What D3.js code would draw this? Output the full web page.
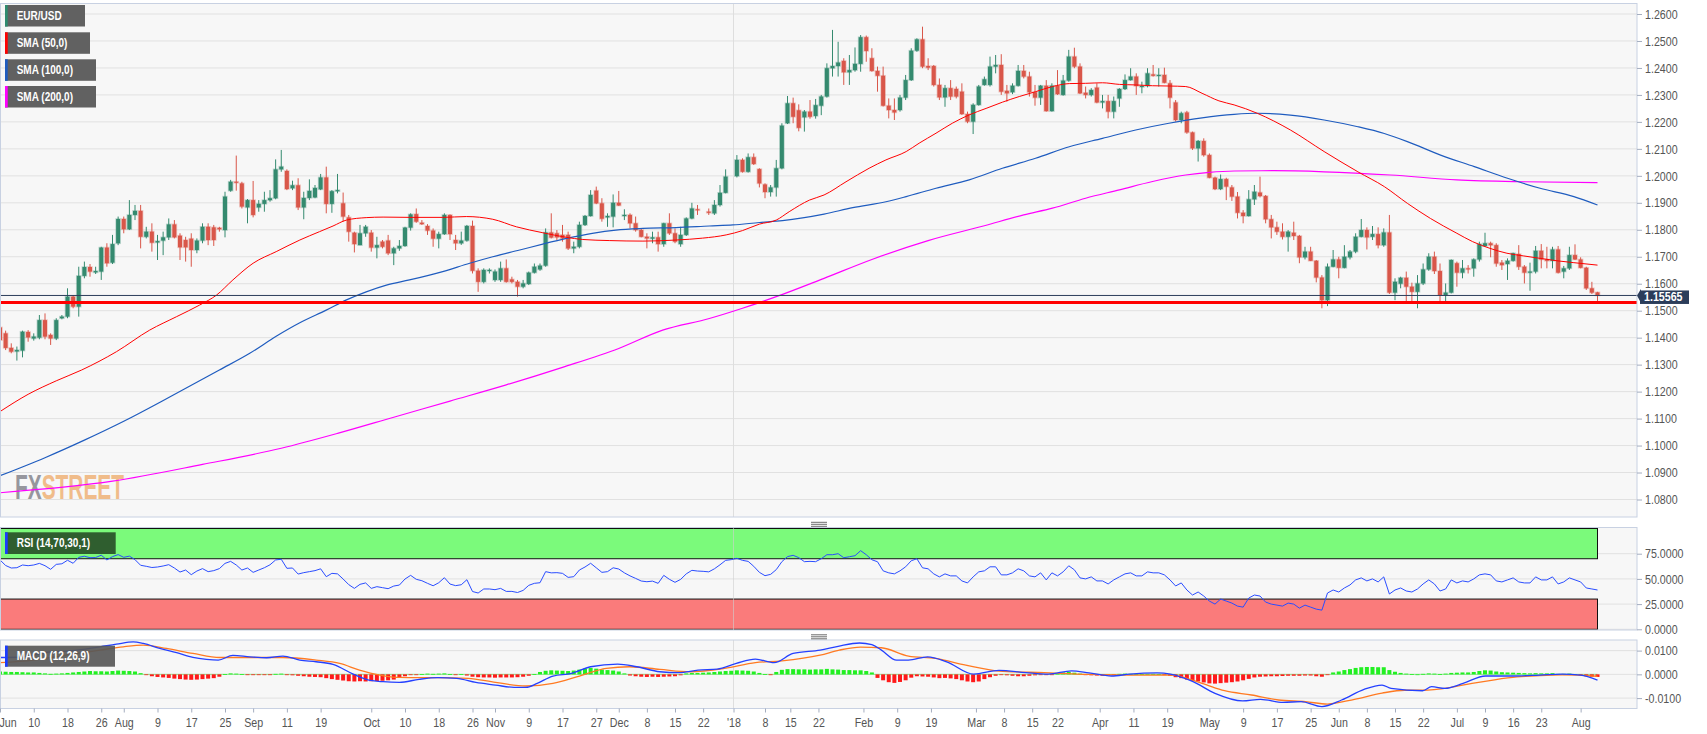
<!DOCTYPE html>
<html>
<head>
<meta charset="utf-8">
<script src="https://cdn.jsdelivr.net/npm/d3@7"></script>
<style>
  body { margin: 0; background: #fff; }
  svg { display: block; font-family: "Liberation Sans", Arial, sans-serif; }
</style>
</head>
<body>
<svg id="chart" width="1707" height="734"></svg>
<script>
// EUR/USD daily, one entry per candle slot (null = holiday gap)
const opens = [
1.1438,1.1416,1.1362,1.1349,1.1352,1.1421,1.1397,1.1400,1.1465,1.1410,
1.1397,1.1472,1.1478,1.1552,1.1515,1.1629,1.1662,1.1642,1.1645,1.1734,
1.1678,1.1750,1.1840,1.1802,1.1855,1.1870,1.1774,1.1793,1.1753,1.1760,
1.1772,1.1820,1.1778,1.1762,1.1767,1.1725,1.1760,1.1811,1.1809,1.1807,
1.1799,1.1945,1.1978,1.1972,1.1883,1.1910,1.1883,1.1896,1.1910,1.1917,
1.2024,1.2018,1.1954,1.1965,1.1883,1.1918,1.1920,1.1950,1.1994,1.1896,
1.1943,1.1898,1.1846,1.1789,1.1743,1.1787,1.1789,1.1734,1.1756,1.1760,
1.1713,1.1731,1.1740,1.1808,1.1858,1.1826,1.1814,1.1797,1.1767,1.1784,
1.1855,1.1762,1.1750,1.1760,1.1814,1.1648,1.1607,1.1648,1.1614,1.1614,
1.1657,1.1616,1.1607,1.1589,1.1599,1.1641,1.1653,1.1667,1.1790,1.1787,
1.1781,1.1781,1.1731,1.1737,1.1818,1.1851,1.1945,1.1898,1.1846,1.1849,
1.1900,1.1851,1.1855,1.1824,1.1799,1.1774,1.1767,1.1772,1.1747,1.1824,
1.1787,1.1747,1.1781,1.1842,1.1876,null,1.1867,1.1861,1.1892,1.1937,
null,1.1999,1.2059,1.2015,1.2069,1.2025,1.1968,1.1940,1.1957,1.2028,
1.2195,1.2269,1.2243,1.2217,1.2238,1.2222,1.2260,1.2294,1.2399,1.2407,
1.2426,1.2384,1.2392,1.2415,1.2514,1.2436,1.2389,1.2371,1.2260,1.2244,
1.2244,1.2290,1.2355,1.2464,1.2506,1.2407,1.2407,1.2337,1.2291,1.2325,
1.2322,1.2312,1.2229,1.2201,1.2263,1.2337,1.2337,1.2405,1.2411,1.2315,
1.2310,1.2334,1.2389,1.2368,1.2310,1.2290,1.2334,1.2240,1.2334,1.2300,
1.2353,1.2442,1.2405,1.2308,1.2300,1.2327,1.2272,1.2277,1.2238,1.2287,
1.2322,1.2355,1.2368,1.2331,1.2333,1.2376,1.2371,1.2374,1.2343,1.2272,
1.2207,1.2235,1.2161,1.2102,1.2129,1.2077,1.1993,1.1951,1.1988,1.1957,
1.1923,1.1863,1.1851,1.1913,1.1938,1.1925,1.1839,1.1809,1.1793,1.1774,
1.1789,1.1777,1.1698,1.1719,1.1685,1.1623,1.1539,1.1663,1.1690,1.1659,
1.1698,1.1719,1.1774,1.1799,1.1774,1.1784,1.1743,1.1790,1.1567,1.1600,
1.1622,1.1589,1.1570,1.1601,1.1653,1.1700,1.1647,1.1558,1.1567,1.1676,
1.1641,1.1657,1.1657,1.1690,1.1740,1.1750,1.1743,1.1678,1.1673,1.1685,
1.1710,1.1663,1.1641,1.1645,1.1722,1.1690,1.1685,1.1727,1.1645,1.1657,
1.1706,1.1690,1.1659,1.1583,1.1568];

const highs = [
1.1447,1.1426,1.1379,1.1367,1.1426,1.1428,1.1416,1.1484,1.1490,1.1416,
1.1472,1.1484,1.1583,1.1558,1.1663,1.1682,1.1673,1.1663,1.1737,1.1750,
1.1781,1.1849,1.1849,1.1910,1.1892,1.1892,1.1811,1.1824,1.1781,1.1793,
1.1842,1.1836,1.1787,1.1774,1.1787,1.1768,1.1824,1.1824,1.1818,1.1811,
1.1941,1.1985,1.2075,1.1978,1.1914,1.1981,1.1910,1.1941,1.1947,1.2061,
1.2096,1.2024,1.1982,1.1991,1.1941,1.1987,1.1966,1.2007,1.2034,1.1947,
1.2007,1.1938,1.1855,1.1793,1.1818,1.1818,1.1799,1.1774,1.1762,1.1781,
1.1737,1.1762,1.1811,1.1861,1.1879,1.1836,1.1821,1.1805,1.1793,1.1861,
1.1857,1.1781,1.1793,1.1818,1.1834,1.1657,1.1657,1.1657,1.1653,1.1682,
1.1690,1.1626,1.1614,1.1614,1.1645,1.1675,1.1675,1.1805,1.1861,1.1799,
1.1818,1.1793,1.1756,1.1830,1.1855,1.1947,1.1960,1.1917,1.1861,1.1931,
1.1944,1.1876,1.1861,1.1849,1.1805,1.1787,1.1793,1.1793,1.1826,1.1861,
1.1805,1.1811,1.1846,1.1900,1.1892,null,1.1879,1.1910,1.1966,1.2024,
null,1.2077,1.2065,1.2083,1.2083,1.2028,1.1972,1.1966,1.2059,1.2195,
1.2296,1.2290,1.2265,1.2244,1.2281,1.2285,1.2300,1.2417,1.2541,1.2497,
1.2436,1.2448,1.2476,1.2522,1.2520,1.2473,1.2405,1.2405,1.2287,1.2287,
1.2300,1.2374,1.2473,1.2510,1.2553,1.2436,1.2411,1.2361,1.2337,1.2355,
1.2331,1.2343,1.2238,1.2269,1.2337,1.2368,1.2442,1.2448,1.2451,1.2337,
1.2343,1.2411,1.2411,1.2386,1.2337,1.2337,1.2355,1.2343,1.2392,1.2374,
1.2467,1.2475,1.2417,1.2331,1.2325,1.2343,1.2300,1.2300,1.2294,1.2325,
1.2376,1.2399,1.2380,1.2349,1.2399,1.2411,1.2399,1.2401,1.2355,1.2281,
1.2238,1.2241,1.2164,1.2133,1.2139,1.2083,1.1997,1.2005,1.1993,1.1966,
1.1940,1.1873,1.1947,1.1966,1.1997,1.1929,1.1855,1.1830,1.1824,1.1799,
1.1830,1.1781,1.1737,1.1737,1.1688,1.1632,1.1675,1.1725,1.1700,1.1743,
1.1725,1.1787,1.1840,1.1809,1.1814,1.1809,1.1805,1.1855,1.1620,1.1626,
1.1645,1.1604,1.1632,1.1675,1.1713,1.1719,1.1675,1.1601,1.1690,1.1682,
1.1688,1.1669,1.1694,1.1756,1.1789,1.1756,1.1750,1.1688,1.1694,1.1715,
1.1743,1.1669,1.1678,1.1740,1.1747,1.1737,1.1737,1.1740,1.1666,1.1737,
1.1746,1.1698,1.1663,1.1607,1.1570];

const lows = [
1.1385,1.1354,1.1342,1.1315,1.1327,1.1385,1.1389,1.1394,1.1394,1.1373,
1.1391,1.1468,1.1472,1.1509,1.1478,1.1620,1.1626,1.1636,1.1614,1.1663,
1.1673,1.1743,1.1787,1.1799,1.1836,1.1731,1.1768,1.1719,1.1688,1.1706,
1.1762,1.1768,1.1688,1.1682,1.1663,1.1713,1.1750,1.1743,1.1740,1.1793,
1.1772,1.1941,1.1945,1.1879,1.1824,1.1846,1.1867,1.1867,1.1904,1.1913,
1.2015,1.1947,1.1947,1.1873,1.1839,1.1910,1.1917,1.1947,1.1861,1.1863,
1.1935,1.1830,1.1756,1.1716,1.1743,1.1774,1.1719,1.1694,1.1731,1.1706,
1.1669,1.1722,1.1737,1.1797,1.1826,1.1818,1.1781,1.1737,1.1731,1.1781,
1.1762,1.1725,1.1744,1.1756,1.1638,1.1570,1.1601,1.1638,1.1607,1.1607,
1.1604,1.1601,1.1552,1.1583,1.1595,1.1638,1.1648,1.1663,1.1768,1.1762,
1.1756,1.1725,1.1713,1.1731,1.1814,1.1849,1.1895,1.1830,1.1811,1.1809,
1.1888,1.1836,1.1805,1.1793,1.1772,1.1731,1.1750,1.1719,1.1737,1.1781,
1.1750,1.1737,1.1777,1.1839,1.1855,null,1.1855,1.1855,1.1886,1.1935,
null,1.1994,1.2012,1.2012,1.2040,1.1957,1.1917,1.1923,1.1923,1.2024,
1.2192,1.2195,1.2165,1.2164,1.2212,1.2212,1.2225,1.2290,1.2368,1.2368,
1.2337,1.2337,1.2386,1.2386,1.2423,1.2386,1.2312,1.2257,1.2213,1.2207,
1.2238,1.2281,1.2352,1.2460,1.2399,1.2392,1.2331,1.2281,1.2256,1.2281,
1.2287,1.2226,1.2195,1.2155,1.2260,1.2334,1.2331,1.2380,1.2300,1.2275,
1.2303,1.2331,1.2361,1.2294,1.2260,1.2263,1.2238,1.2238,1.2300,1.2297,
1.2349,1.2399,1.2303,1.2287,1.2294,1.2269,1.2250,1.2213,1.2213,1.2256,
1.2318,1.2353,1.2300,1.2306,1.2328,1.2368,1.2331,1.2343,1.2250,1.2201,
1.2195,1.2156,1.2096,1.2053,1.2071,1.1991,1.1947,1.1947,1.1910,1.1907,
1.1842,1.1824,1.1849,1.1892,1.1920,1.1824,1.1768,1.1781,1.1764,1.1719,
1.1762,1.1676,1.1690,1.1684,1.1605,1.1509,1.1517,1.1661,1.1620,1.1657,
1.1690,1.1713,1.1772,1.1727,1.1762,1.1731,1.1737,1.1562,1.1539,1.1583,
1.1530,1.1530,1.1509,1.1595,1.1648,1.1636,1.1533,1.1530,1.1564,1.1589,
1.1620,1.1638,1.1626,1.1682,1.1737,1.1698,1.1663,1.1651,1.1614,1.1682,
1.1651,1.1601,1.1574,1.1638,1.1657,1.1657,1.1657,1.1638,1.1620,1.1651,
1.1688,1.1657,1.1577,1.1562,1.1533];

const closes = [
1.1391,1.1362,1.1348,1.1354,1.1422,1.1401,1.1404,1.1465,1.1404,1.1397,
1.1465,1.1478,1.1552,1.1515,1.1629,1.1662,1.1645,1.1647,1.1734,1.1676,
1.1747,1.1840,1.1802,1.1855,1.1870,1.1774,1.1793,1.1752,1.1758,1.1772,
1.1820,1.1772,1.1735,1.1735,1.1725,1.1760,1.1811,1.1762,1.1762,1.1802,
1.1923,1.1978,1.1975,1.1886,1.1910,1.1855,1.1896,1.1910,1.1917,1.2024,
1.2034,1.1951,1.1965,1.1883,1.1918,1.1944,1.1955,1.1994,1.1896,1.1943,
1.1947,1.1849,1.1793,1.1747,1.1787,1.1811,1.1734,1.1743,1.1737,1.1713,
1.1731,1.1740,1.1808,1.1857,1.1830,1.1821,1.1797,1.1767,1.1784,1.1855,
1.1784,1.1750,1.1760,1.1814,1.1648,1.1607,1.1651,1.1651,1.1645,1.1657,
1.1607,1.1607,1.1589,1.1601,1.1641,1.1663,1.1667,1.1790,1.1771,1.1772,
1.1768,1.1731,1.1737,1.1818,1.1851,1.1929,1.1898,1.1841,1.1851,1.1900,
1.1890,1.1855,1.1824,1.1799,1.1774,1.1768,1.1772,1.1747,1.1824,1.1787,
1.1756,1.1781,1.1842,1.1879,1.1873,null,1.1863,1.1892,1.1937,1.1997,
null,1.2059,1.2015,1.2069,1.2044,1.1972,1.1940,1.1957,1.2028,1.2186,
1.2269,1.2219,1.2178,1.2238,1.2219,1.2262,1.2294,1.2399,1.2407,1.2420,
1.2384,1.2392,1.2415,1.2514,1.2463,1.2389,1.2371,1.2260,1.2244,1.2235,
1.2290,1.2355,1.2464,1.2506,1.2405,1.2401,1.2337,1.2291,1.2325,1.2294,
1.2294,1.2229,1.2201,1.2263,1.2331,1.2358,1.2405,1.2411,1.2312,1.2306,
1.2334,1.2389,1.2368,1.2310,1.2290,1.2334,1.2240,1.2334,1.2303,1.2353,
1.2442,1.2405,1.2306,1.2300,1.2318,1.2272,1.2277,1.2238,1.2277,1.2322,
1.2355,1.2368,1.2333,1.2333,1.2380,1.2371,1.2374,1.2345,1.2290,1.2207,
1.2232,1.2161,1.2102,1.2129,1.2077,1.1993,1.1951,1.1988,1.1960,1.1923,
1.1863,1.1851,1.1913,1.1941,1.1925,1.1839,1.1809,1.1793,1.1774,1.1793,
1.1777,1.1698,1.1719,1.1685,1.1623,1.1539,1.1663,1.1690,1.1659,1.1700,
1.1719,1.1774,1.1799,1.1772,1.1784,1.1743,1.1790,1.1567,1.1607,1.1622,
1.1589,1.1570,1.1601,1.1653,1.1700,1.1647,1.1558,1.1567,1.1688,1.1641,
1.1657,1.1654,1.1690,1.1747,1.1750,1.1743,1.1675,1.1669,1.1685,1.1713,
1.1663,1.1641,1.1645,1.1722,1.1690,1.1685,1.1727,1.1641,1.1657,1.1706,
1.1690,1.1659,1.1583,1.1567,1.15565];

// moving averages: [candle index, value]
const sma50Pts = [[0,1.1126],[5,1.1190],[10,1.1240],[14.5,1.1280],[20.7,1.1348],[26.6,1.1428],[31.4,1.1478],[35.5,1.1521],[38.5,1.1558],[41.4,1.1614],[45,1.1676],[49.1,1.1719],[53.3,1.1762],[56.8,1.1793],[59.2,1.1814],[61.6,1.1836],[65.1,1.1845],[68.1,1.1847],[72.8,1.1846],[78.7,1.1846],[82.9,1.1849],[87.6,1.1839],[91.8,1.1811],[96.5,1.1789],[100.7,1.1772],[103.6,1.1764],[108.3,1.1760],[114.3,1.1758],[120.2,1.1762],[124.9,1.1769],[129.1,1.1781],[132,1.1797],[135,1.1821],[138,1.1836],[140.3,1.1867],[143.9,1.1910],[146.5,1.1929],[150.4,1.1978],[154.5,1.2028],[157.5,1.2059],[161.1,1.2090],[163.4,1.2121],[166.4,1.2158],[169.3,1.2195],[172.3,1.2226],[175.3,1.2250],[178.2,1.2273],[181.2,1.2294],[184.1,1.2312],[187.1,1.2331],[190.1,1.2342],[193,1.2343],[196,1.2345],[199,1.2339],[201.9,1.2337],[204.9,1.2334],[207.8,1.2333],[210.8,1.2331],[213.7,1.2306],[216.7,1.2278],[219.4,1.2263],[223.5,1.2232],[229.4,1.2170],[235.4,1.2090],[241.4,1.2015],[246.1,1.1960],[250.2,1.1898],[254.3,1.1842],[259,1.1787],[261.8,1.1756],[264.9,1.1731],[267.9,1.1713],[270.9,1.1703],[273.8,1.1694],[276.8,1.1685],[279.8,1.1678],[284,1.1669]];
const sma100Pts = [[0,1.0888],[8,1.0955],[15,1.1020],[22,1.1090],[30,1.1178],[39,1.1280],[44.4,1.1342],[49.1,1.1405],[53.3,1.1455],[58,1.1502],[61.6,1.1540],[65.1,1.1570],[68.7,1.1595],[72.8,1.1614],[78.7,1.1645],[83.5,1.1676],[87.6,1.1700],[92.4,1.1725],[96.5,1.1747],[100.7,1.1768],[105.3,1.1787],[109.5,1.1799],[114.3,1.1805],[120.2,1.1808],[126.1,1.1814],[130.3,1.1818],[135,1.1827],[139.1,1.1834],[146.5,1.1858],[151.6,1.1882],[157.5,1.1904],[161.1,1.1923],[166.4,1.1954],[172.3,1.1985],[178.2,1.2028],[184.1,1.2065],[190.1,1.2108],[196,1.2139],[201.9,1.2170],[207.8,1.2195],[213.7,1.2215],[219.4,1.2228],[223.5,1.2232],[229.4,1.2225],[235.4,1.2207],[241.4,1.2182],[246.1,1.2157],[250.2,1.2127],[256.1,1.2077],[262.1,1.2034],[268,1.1991],[273.8,1.1954],[279.8,1.1923],[284,1.1892]];
const sma200Pts = [[0,1.0825],[20,1.0868],[36,1.0930],[50,1.0990],[60,1.1045],[70,1.1105],[80,1.1165],[90,1.1225],[100,1.1290],[110,1.1360],[117.8,1.1428],[126.1,1.1471],[132,1.1509],[138,1.1552],[146.5,1.1620],[155,1.1690],[165,1.1760],[175,1.1815],[182,1.1855],[187.1,1.1880],[193,1.1917],[199,1.1948],[204.9,1.1979],[210.8,1.2003],[215,1.2013],[219.4,1.2018],[226.5,1.2019],[235.4,1.2015],[247.2,1.2003],[259,1.1985],[270.9,1.1978],[284,1.1975]];

// RSI (14), one value per candle slot
const rsiValues = [
68.8,63.3,60.8,61.1,63.8,63.1,63.8,65.4,63.1,59.5,
64.4,65.0,68.5,65.5,71.4,72.5,71.0,71.2,73.5,68.8,
72.1,74.1,71.4,72.6,69.1,63.5,62.5,61.3,61.8,62.8,
64.1,60.8,56.8,58.8,54.2,57.8,60.2,57.2,58.2,60.2,
65.4,67.4,63.8,58.8,60.8,56.5,58.8,61.1,64.0,68.8,
69.5,60.5,60.8,54.8,56.2,57.2,58.2,60.0,52.2,55.5,
55.0,49.9,44.3,40.6,44.6,46.0,40.6,42.3,41.3,40.3,
42.9,43.9,49.9,53.5,49.6,48.2,45.6,43.2,46.2,51.2,
44.9,43.3,44.2,49.2,37.5,36.0,40.0,40.0,39.3,40.6,
37.6,37.6,36.5,38.6,43.6,45.6,46.2,57.2,56.0,56.2,
55.5,51.5,52.2,58.8,61.8,65.5,61.0,56.5,57.2,61.0,
59.8,56.0,53.0,50.5,47.9,47.2,47.8,45.6,53.5,49.6,
46.6,49.5,55.0,58.5,57.8,57.5,57.0,60.0,64.0,68.4,
69.1,70.4,68.4,67.4,62.5,56.5,53.2,54.5,59.2,67.1,
72.1,73.4,71.1,67.1,67.4,67.1,70,74,74,75,
71,72,73,78,74,69,67,58,56,55,
58,62,68,70,61,60,55,52,55,53,
53,48,46,52,57,58,62,62,54,54,
56,60,58,53,52,56,49,56,53,57,
63,59,51,50,52,48,48,45,49,52,
55,56,53,53,57,56,56,54,49,43,
46,39,34,37,33,28,25,30,28,26,
23,22,31,34,33,27,25,24,23,26,
25,21,24,22,20,19,36,39,37,41,
44,49,51,48,50,47,52,35,39,41,
38,37,40,45,49,45,38,40,49,46,
48,47,50,54,55,54,48,47,49,51,
47,46,46,52,49,49,52,45,47,51,
49,47,41,40,39];

// MACD (12,26,9): lines as [index, value], histogram per candle slot
const macdPts = [[0,0.0071],[4,0.0073],[5.9,0.0081],[8.9,0.0095],[11.8,0.0098],[14.8,0.0105],[17.8,0.0116],[20.7,0.0127],[23.7,0.0137],[25.5,0.0130],[28.4,0.0109],[31.4,0.0091],[34.3,0.0071],[36.7,0.0063],[38.8,0.0060],[41.4,0.0080],[44.4,0.0074],[47.4,0.0070],[50.3,0.0077],[53.3,0.0060],[56.2,0.0053],[59.2,0.0042],[62.8,0.0001],[65.1,-0.0021],[68.1,-0.0031],[71,-0.0034],[74.5,-0.0021],[77.8,-0.0014],[81.2,-0.0017],[84.6,-0.0034],[88.1,-0.0045],[91.4,-0.0055],[93.5,-0.0055],[95.5,-0.0038],[98.3,-0.0007],[101.6,0.0004],[105,0.0032],[109.8,0.0043],[113.2,0.0032],[117.3,0.0011],[120.7,0.0007],[124.1,0.0018],[127.5,0.0022],[130.9,0.0046],[134.3,0.0064],[137.6,0.0049],[141,0.0088],[145.8,0.0102],[149,0.0118],[152.8,0.0132],[155,0.0125],[156.7,0.0102],[159.4,0.0060],[161.5,0.0060],[164.9,0.0074],[168.3,0.0053],[173.1,0.0001],[177.6,0.0017],[182.4,0.0007],[186.4,0.0001],[190.5,0.0015],[193.6,0.0006],[197.6,-0.0007],[200.8,0.0001],[205.7,0.0006],[208.1,0.0001],[212.1,-0.0031],[216,-0.0080],[220.9,-0.0112],[224.1,-0.0105],[228.1,-0.0118],[231.3,-0.0115],[235,-0.0136],[238.5,-0.0108],[242.5,-0.0063],[245.7,-0.0045],[247.3,-0.0059],[252.9,-0.0069],[254.5,-0.0052],[256.9,-0.0059],[260.1,-0.0038],[264.1,-0.0007],[268.9,-0.0007],[273.7,-0.0003],[277.7,0.0001],[281,-0.0003],[284,-0.0024]];
const signalPts = [[0,0.0049],[5.9,0.0060],[11.8,0.0081],[17.8,0.0102],[21.9,0.0116],[25.5,0.0123],[29.6,0.0109],[34.3,0.0088],[39.1,0.0071],[44.4,0.0071],[50.3,0.0071],[56.2,0.0060],[60.4,0.0046],[63.9,0.0018],[67.5,-0.0003],[71,-0.0013],[74.5,-0.0014],[78,-0.0014],[83.2,-0.0017],[88.1,-0.0034],[93.5,-0.0049],[98.3,-0.0038],[103,-0.0007],[107.8,0.0025],[111.9,0.0032],[117.3,0.0021],[122.7,0.0011],[128.8,0.0025],[134.3,0.0049],[139,0.0057],[145.8,0.0081],[149.2,0.0102],[153,0.0115],[156.7,0.0112],[161.5,0.0077],[166.3,0.0067],[171.7,0.0039],[177.6,0.0014],[185.6,0.0007],[193.6,0.0000],[201.6,-0.0003],[208.1,-0.0003],[213.7,-0.0038],[217.7,-0.0069],[222.5,-0.0087],[227.3,-0.0108],[232.1,-0.0115],[236,-0.0125],[240.8,-0.0105],[245.7,-0.0079],[249.7,-0.0067],[252.9,-0.0067],[257.7,-0.0056],[261.7,-0.0038],[265.7,-0.0023],[269.7,-0.0011],[273.7,-0.0005],[277.7,-0.0002],[284,-0.0008]];
const histValues = [
.0012,.0011,.0010,.0010,.0009,.0008,.0008,.0006,.0004,.0002,
.0003,.0004,.0006,.0008,.0010,.0012,.0014,.0013,.0013,.0012,
.0014,.0016,.0015,.0014,.0012,.0005,-.0002,-.0008,-.0011,-.0013,
-.0015,-.0018,-.0020,-.0022,-.0023,-.0022,-.0020,-.0018,-.0016,-.0010,
.0001,.0004,.0003,.0001,-.0002,-.0003,-.0003,-.0002,-.0001,.0002,
.0003,-.0001,-.0004,-.0006,-.0008,-.0010,-.0011,-.0012,-.0016,-.0020,
-.0023,-.0026,-.0029,-.0030,-.0029,-.0030,-.0029,-.0028,-.0027,-.0025,
-.0022,-.0015,-.0008,-.0003,-.0002,.0001,.0003,.0002,.0003,.0004,
.0001,-.0001,.0001,-.0005,-.0010,-.0012,-.0013,-.0013,-.0014,-.0013,
-.0013,-.0013,-.0012,-.0010,-.0006,.0001,.0010,.0015,.0017,.0016,
.0015,.0014,.0016,.0020,.0024,.0027,.0024,.0020,.0018,.0016,
.0012,.0004,-.0005,-.0008,-.0010,-.0011,-.0010,-.0011,-.0010,-.0009,
-.0008,-.0004,.0004,.0006,.0006,.0007,.0008,.0010,.0012,.0014,
.0015,.0017,.0016,.0015,.0012,.0006,.0001,-.0002,.0010,.0019,
.0022,.0022,.0021,.0021,.0020,.0021,.0021,.0023,.0021,.0020,
.0018,.0018,.0017,.0017,.0014,.0008,-.0015,-.0025,-.0033,-.0036,
-.0032,-.0025,-.0014,-.0008,-.0009,-.0010,-.0013,-.0016,-.0015,-.0017,
-.0020,-.0025,-.0030,-.0033,-.0030,-.0020,-.0012,-.0006,-.0003,-.0004,
-.0006,-.0008,-.0008,-.0006,-.0004,-.0001,-.0003,-.0002,.0003,.0008,
.0010,.0007,.0003,-.0002,-.0004,-.0005,-.0006,-.0004,-.0001,.0002,
.0003,.0002,.0001,.0001,.0002,.0002,.0001,-.0002,-.0006,-.0012,
-.0016,-.0022,-.0028,-.0030,-.0034,-.0038,-.0039,-.0037,-.0035,-.0033,
-.0030,-.0025,-.0019,-.0013,-.0010,-.0009,-.0008,-.0008,-.0007,-.0006,
-.0006,-.0006,-.0005,-.0005,-.0008,-.0010,-.0002,.0008,.0012,.0018,
.0022,.0027,.0030,.0031,.0031,.0030,.0030,.0018,.0011,.0006,
.0003,.0001,.0000,.0002,.0004,.0003,.0001,.0003,.0006,.0007,
.0008,.0008,.0010,.0014,.0017,.0016,.0012,.0009,.0008,.0007,
.0006,.0005,.0004,.0005,.0004,.0004,.0005,.0002,.0002,.0003,
.0001,-.0004,-.0008,-.0010,-.0011];

const priceTicks = [1.26,1.25,1.24,1.23,1.22,1.21,1.20,1.19,1.18,1.17,1.16,1.15,1.14,1.13,1.12,1.11,1.10,1.09,1.08];
const rsiTicks = [75,50,25,0];
const macdTicks = [0.01,0,-0.01];
const dateTickPos = [0,6,12,18,22,28,34,40,45,51,57,66,72,78,84,88,94,100,106,110,115,120,125,130.4,136,140.5,145.5,153.5,159.5,165.5,173.5,178.5,183.5,188,195.5,201.5,207.5,215,221,227,233,238,243,248,253,259,264,269,274,281];
const dateTickLabels = ["Jun","10","18","26","Aug","9","17","25","Sep","11","19","Oct","10","18","26","Nov","9","17","27","Dec","8","15","22","'18","8","15","22","Feb","9","19","Mar","8","15","22","Apr","11","19","May","9","17","25","Jun","8","15","22","Jul","9","16","23","Aug"];
const yearLineAt = 130.4;
const supportLevel = 1.1530;
const lastPrice = 1.15565;
const rsiUpper = 70, rsiLower = 30;

const svg = d3.select("#chart");
const plotRight = 1637;
const mainTop = 3.5, mainBottom = 517;
const rsiTop = 527.5, rsiBottom = 630;
const macdTop = 640, macdBottom = 708.5;

const x = d3.scaleLinear().domain([0, closes.length - 1]).range([0, 1597.5]);
const yPrice = d3.scaleLinear().domain([1.08, 1.26]).range([499.5, 14]);
const yRsi = d3.scaleLinear().domain([0, 100]).range([629.3, 528.5]);
const yMacd = d3.scaleLinear().domain([-0.01, 0.01]).range([698.1, 650.6]);

const upColor = "#358a6f", downColor = "#d9574a";

// squeeze text horizontally, the reference uses a narrow face
function condense(sel, k) {
    sel.each(function() {
        const len = this.getComputedTextLength();
        d3.select(this).attr("textLength", len * k).attr("lengthAdjust", "spacingAndGlyphs");
    });
}

// panels
const defs = svg.append("defs");
[["clipMain", mainTop, mainBottom], ["clipRsi", rsiTop, rsiBottom], ["clipMacd", macdTop, macdBottom]].forEach(p => {
    defs.append("clipPath").attr("id", p[0]).append("rect")
        .attr("x", 0.5).attr("y", p[1]).attr("width", plotRight - 0.5).attr("height", p[2] - p[1]);
    svg.append("rect").attr("x", 0.5).attr("y", p[1]).attr("width", plotRight - 0.5).attr("height", p[2] - p[1])
        .attr("fill", "#f7f7f7");
});

function hGrid(scale, ticks, clip) {
    svg.append("g").attr("clip-path", `url(#${clip})`)
        .selectAll("line").data(ticks).join("line")
        .attr("x1", 0).attr("x2", plotRight)
        .attr("y1", d => scale(d)).attr("y2", d => scale(d))
        .attr("stroke", "#e1e1e1").attr("stroke-width", 1);
}
hGrid(yPrice, priceTicks, "clipMain");
hGrid(yRsi, rsiTicks, "clipRsi");
hGrid(yMacd, macdTicks, "clipMacd");

// watermark, one text squeezed with a transform
const wm = svg.append("text").attr("transform", "translate(15,499) scale(0.58,1)")
    .attr("font-size", 36).attr("font-weight", "bold").attr("opacity", 0.85);
wm.append("tspan").attr("fill", "#86868e").text("FX");
wm.append("tspan").attr("fill", "#efb277").text("STREET");

// main panel: candles + moving averages
const gMain = svg.append("g").attr("clip-path", "url(#clipMain)");
const candles = closes.map((c, i) => ({i: i, o: opens[i], h: highs[i], l: lows[i], c: c}))
    .filter(d => d.c !== null);

gMain.append("line").attr("x1", x(yearLineAt)).attr("x2", x(yearLineAt))
    .attr("y1", mainTop).attr("y2", mainBottom).attr("stroke", "#dedede");

gMain.append("g").selectAll("line").data(candles).join("line")
    .attr("x1", d => x(d.i)).attr("x2", d => x(d.i))
    .attr("y1", d => yPrice(d.h)).attr("y2", d => yPrice(d.l))
    .attr("stroke", d => d.c >= d.o ? upColor : downColor).attr("stroke-width", 1);

gMain.append("g").selectAll("rect").data(candles).join("rect")
    .attr("x", d => x(d.i) - 2)
    .attr("width", 4)
    .attr("y", d => yPrice(Math.max(d.o, d.c)))
    .attr("height", d => Math.max(1, Math.abs(yPrice(d.o) - yPrice(d.c))))
    .attr("fill", d => d.c >= d.o ? upColor : downColor)
    .attr("stroke", d => d.c >= d.o ? upColor : downColor)
    .attr("stroke-opacity", 0.3).attr("stroke-width", 1.6);

const ptLine = (ys) => d3.line().x(d => x(d[0])).y(d => ys(d[1])).curve(d3.curveMonotoneX);

gMain.append("path").datum(sma200Pts).attr("d", ptLine(yPrice))
    .attr("fill", "none").attr("stroke", "#ff00ff").attr("stroke-width", 1.2);
gMain.append("path").datum(sma100Pts).attr("d", ptLine(yPrice))
    .attr("fill", "none").attr("stroke", "#1f5cbf").attr("stroke-width", 1.2);
gMain.append("path").datum(sma50Pts).attr("d", ptLine(yPrice))
    .attr("fill", "none").attr("stroke", "#ff0000").attr("stroke-width", 1);

gMain.append("line").attr("x1", 0).attr("x2", plotRight)
    .attr("y1", yPrice(lastPrice)).attr("y2", yPrice(lastPrice))
    .attr("stroke", "#2b3d5a").attr("stroke-width", 1);
gMain.append("line").attr("x1", 0).attr("x2", plotRight)
    .attr("y1", yPrice(supportLevel)).attr("y2", yPrice(supportLevel))
    .attr("stroke", "#ff0000").attr("stroke-width", 3);

// RSI panel
const gRsi = svg.append("g").attr("clip-path", "url(#clipRsi)");
gRsi.append("rect").attr("x", 0.5).attr("width", x(closes.length - 1) - 0.5)
    .attr("y", yRsi(100)).attr("height", yRsi(rsiUpper) - yRsi(100))
    .attr("fill", "#7bfa7b").attr("stroke", "#111").attr("stroke-width", 1);
gRsi.append("rect").attr("x", 0.5).attr("width", x(closes.length - 1) - 0.5)
    .attr("y", yRsi(rsiLower)).attr("height", yRsi(0) - yRsi(rsiLower))
    .attr("fill", "#fa7b7b").attr("stroke", "#111").attr("stroke-width", 1);
gRsi.append("line").attr("x1", x(yearLineAt)).attr("x2", x(yearLineAt))
    .attr("y1", rsiTop).attr("y2", rsiBottom).attr("stroke", "#cfcfcf").attr("opacity", 0.6);
gRsi.append("path").datum(rsiValues)
    .attr("d", d3.line().x((d, i) => x(i)).y(d => yRsi(d)))
    .attr("fill", "none").attr("stroke", "#2a4dff").attr("stroke-width", 1);

// MACD panel
const gMacd = svg.append("g").attr("clip-path", "url(#clipMacd)");
gMacd.append("line").attr("x1", x(yearLineAt)).attr("x2", x(yearLineAt))
    .attr("y1", macdTop).attr("y2", macdBottom).attr("stroke", "#dedede");
gMacd.append("line").attr("x1", 0).attr("x2", x(closes.length - 1))
    .attr("y1", yMacd(0)).attr("y2", yMacd(0))
    .attr("stroke", "#8ee88e").attr("stroke-width", 1);
gMacd.append("g").selectAll("rect").data(histValues).join("rect")
    .attr("x", (d, i) => x(i) - 2)
    .attr("width", 4)
    .attr("y", d => yMacd(Math.max(0, d)))
    .attr("height", d => Math.max(0.8, Math.abs(yMacd(d) - yMacd(0))))
    .attr("fill", d => d >= 0 ? "#22f022" : "#ff1a1a");
gMacd.append("path").datum(signalPts).attr("d", ptLine(yMacd))
    .attr("fill", "none").attr("stroke", "#ff7a22").attr("stroke-width", 1.3);
gMacd.append("path").datum(macdPts).attr("d", ptLine(yMacd))
    .attr("fill", "none").attr("stroke", "#2440ff").attr("stroke-width", 1.3);

// panel borders
[[mainTop, mainBottom], [rsiTop, rsiBottom], [macdTop, macdBottom]].forEach(p => {
    svg.append("rect").attr("x", 0.5).attr("y", p[0]).attr("width", plotRight - 0.5).attr("height", p[1] - p[0])
        .attr("fill", "none").attr("stroke", "#c8d1e2").attr("stroke-width", 1);
});

// axes
function styleAxis(g) {
    g.select(".domain").remove();
    g.selectAll(".tick line").attr("stroke", "#a4adbf");
    g.selectAll(".tick text").attr("fill", "#555").style("font-size", "13px")
        .style("font-family", "'Liberation Sans', Arial, sans-serif");
    condense(g.selectAll(".tick text"), 0.82);
}
svg.append("g").attr("transform", `translate(${plotRight},0)`)
    .call(d3.axisRight(yPrice).tickValues(priceTicks).tickFormat(d => d.toFixed(4)).tickSize(5).tickPadding(3))
    .call(styleAxis);
svg.append("g").attr("transform", `translate(${plotRight},0)`)
    .call(d3.axisRight(yRsi).tickValues(rsiTicks).tickFormat(d => d.toFixed(4)).tickSize(5).tickPadding(3))
    .call(styleAxis);
svg.append("g").attr("transform", `translate(${plotRight},0)`)
    .call(d3.axisRight(yMacd).tickValues(macdTicks).tickFormat(d => d.toFixed(4)).tickSize(5).tickPadding(3))
    .call(styleAxis);
const xAxis = svg.append("g").attr("transform", `translate(0,${macdBottom})`)
    .call(d3.axisBottom(x).tickValues(dateTickPos).tickFormat((d, i) => dateTickLabels[i]).tickSize(4).tickPadding(5))
    .call(styleAxis);
xAxis.selectAll(".tick text").filter((d, i) => i === 0).attr("text-anchor", "start").attr("x", -1);

// last price tag
const yLast = yPrice(lastPrice);
svg.append("path")
    .attr("d", `M${plotRight},${yLast} L${plotRight + 4},${yLast - 6.5} L${plotRight + 4},${yLast + 7.5} Z`)
    .attr("fill", "#2b3d5a");
svg.append("rect").attr("x", plotRight + 3).attr("y", yLast - 5).attr("width", 49).attr("height", 13.5)
    .attr("fill", "#2b3d5a");
const lastTxt = svg.append("text").attr("x", plotRight + 7).attr("y", yLast + 1.8).attr("dominant-baseline", "middle")
    .attr("fill", "#fff").attr("font-weight", "bold").style("font-size", "13px").text("1.15565");
condense(lastTxt, 0.82);

// legend boxes
function legendBox(x0, y0, w, h, bar, fill, label) {
    const g = svg.append("g");
    g.append("rect").attr("x", x0).attr("y", y0).attr("width", w).attr("height", h).attr("fill", fill);
    g.append("rect").attr("x", x0).attr("y", y0).attr("width", 2.7).attr("height", h).attr("fill", bar);
    const t = g.append("text").attr("x", x0 + 11.7).attr("y", y0 + h / 2 + 0.5).attr("dominant-baseline", "middle")
        .attr("fill", "#fff").attr("font-weight", "bold").style("font-size", "12.5px").text(label);
    condense(t, 0.8);
}
legendBox(5, 5, 80, 21.5, "#2e8b6e", "#616161", "EUR/USD");
legendBox(5, 32.3, 85, 21.5, "#ff0000", "#616161", "SMA (50,0)");
legendBox(5, 59.3, 91, 21.5, "#1f5cbf", "#616161", "SMA (100,0)");
legendBox(5, 86, 91, 21.5, "#ff00ff", "#616161", "SMA (200,0)");
legendBox(5, 532.3, 110.7, 21.7, "#1a3cff", "#2f5e2f", "RSI (14,70,30,1)");
legendBox(5, 645.7, 110, 21, "#1a3cff", "rgba(88,88,88,0.92)", "MACD (12,26,9)");

// panel resize grips
[522.3, 634.8].forEach(yy => {
    [0, 2, 4].forEach(o => {
        svg.append("line").attr("x1", 811).attr("x2", 827).attr("y1", yy + o).attr("y2", yy + o)
            .attr("stroke", "#6d6d6d").attr("stroke-width", 1);
    });
});
</script>
</body>
</html>
